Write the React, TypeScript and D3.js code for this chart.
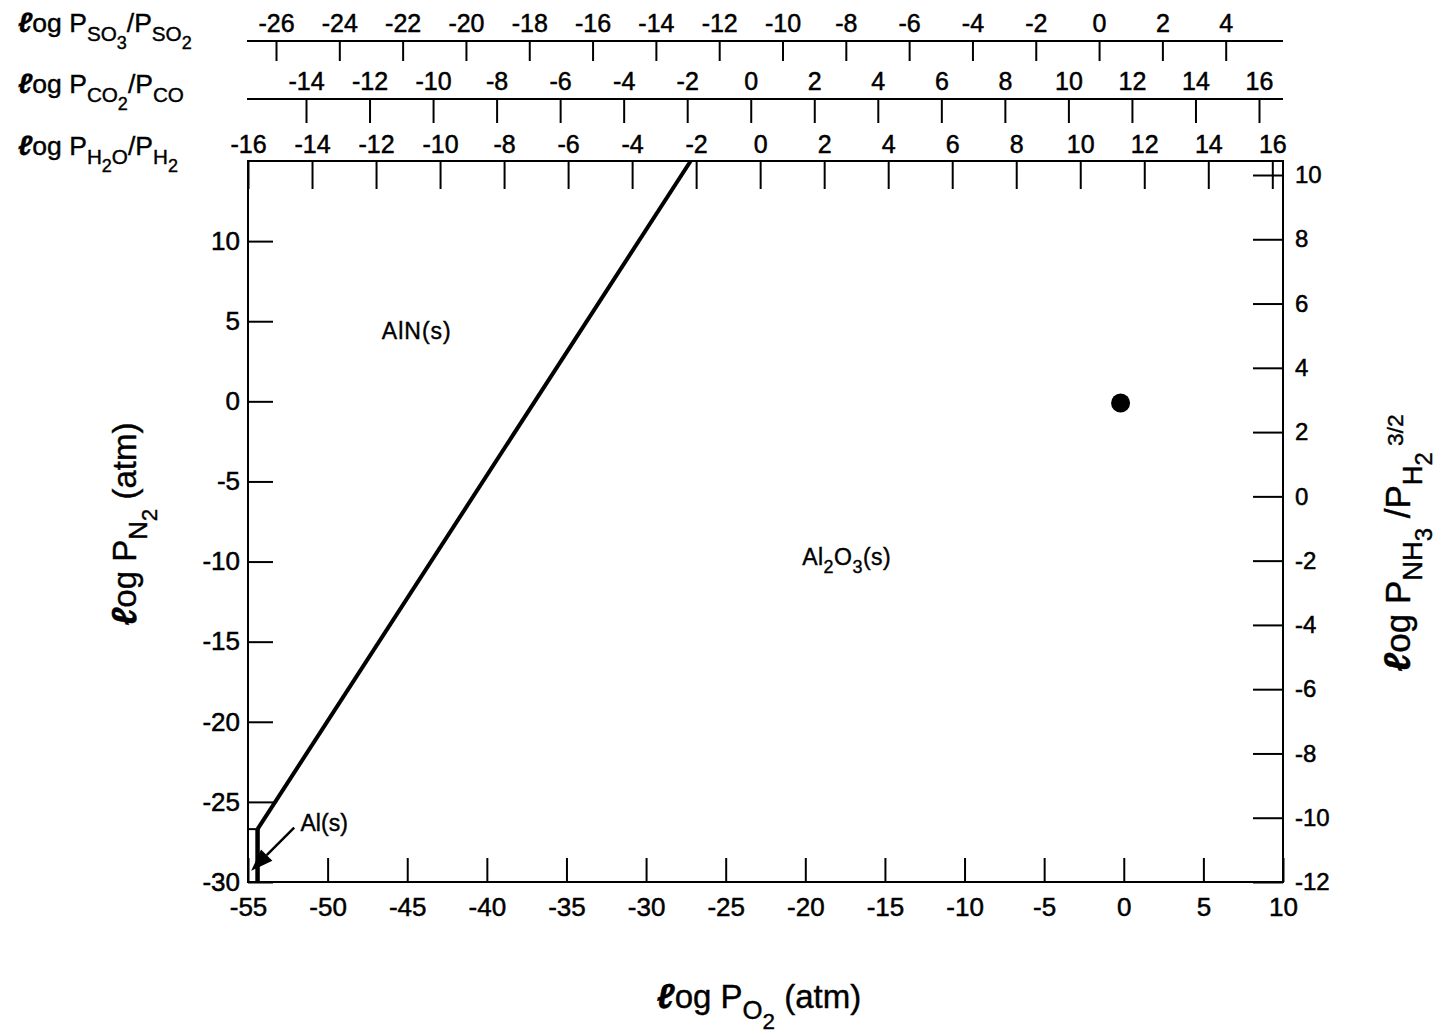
import React, { useRef, useEffect } from "react";
import * as d3 from "d3";

// tick values of every axis
const po2Ticks = [-55, -50, -45, -40, -35, -30, -25, -20, -15, -10, -5, 0, 5, 10];
const pn2Ticks = [-30, -25, -20, -15, -10, -5, 0, 5, 10];
const nh3Ticks = [-12, -10, -8, -6, -4, -2, 0, 2, 4, 6, 8, 10];
const so3Ticks = [-26, -24, -22, -20, -18, -16, -14, -12, -10, -8, -6, -4, -2, 0, 2, 4];
const co2Ticks = [-14, -12, -10, -8, -6, -4, -2, 0, 2, 4, 6, 8, 10, 12, 14, 16];
const h2oTicks = [-16, -14, -12, -10, -8, -6, -4, -2, 0, 2, 4, 6, 8, 10, 12, 14, 16];

// phase boundaries: [log PO2, log PN2]
const alnAl2o3Line = [[-54.4, -26.7], [-27.2, 15]];
const alAl2o3Line = [[-54.4, -30], [-54.4, -26.7]];
const alAlnLine = [[-55, -26.7], [-54.4, -26.7]];

// air point
const airPoint = [-0.2, -0.1];

const FONT = "'Liberation Sans', Arial, Helvetica, sans-serif";

// level: 0 base, 1 subscript, 2 sub-subscript, 3 superscript
const OFFSET = [0, 0.34, 0.64, -0.2];
const SCALE = [1, 0.78, 0.68, 0.65];

const writeFormula = (text, parts, size) => {
  let prev = 0;
  parts.forEach(([t, lvl]) => {
    const off = OFFSET[lvl] * size;
    const ts = text
      .append("tspan")
      .attr("dy", off - prev)
      .attr("font-size", size * SCALE[lvl])
      .text(t);
    if (t === "ℓ") {
      ts.attr("font-weight", "bold").attr("font-style", "italic").attr("font-size", size * 1.05);
    }
    prev = off;
  });
};

const App = () => {
  const svgRef = useRef(null);

  const drawChart = () => {
    document.body.style.margin = "0";
    const svg = d3.select(svgRef.current);
    svg.selectAll("*").remove();

    const x = d3.scaleLinear().domain([-55, 10]).range([248, 1283]);
    const y = d3.scaleLinear().domain([-30, 15]).range([882, 161]);
    const yR = d3.scaleLinear().domain([-12, 10]).range([882, 175]);
    const so3 = d3.scaleLinear().domain([-26, 4]).range([276, 1225.7]);
    const co2 = d3.scaleLinear().domain([-14, 16]).range([306, 1259]);
    const h2o = d3.scaleLinear().domain([-16, 16]).range([248, 1272.3]);

    const fmt = (d) => String(d);
    const styleAxis = (g, size) => {
      g.select(".domain").remove();
      g.selectAll("line").attr("stroke", "#000").attr("stroke-width", 2);
      g.selectAll("text")
        .attr("font-size", size)
        .attr("font-family", FONT)
        .attr("fill", "#000")
        .attr("stroke", "#000")
        .attr("stroke-width", 0.5);
    };

    /* bottom axis */
    svg
      .append("g")
      .attr("transform", "translate(0,882)")
      .call(d3.axisBottom(x).tickValues(po2Ticks).tickSizeInner(-24).tickSizeOuter(0).tickPadding(16).tickFormat(fmt))
      .call((g) => styleAxis(g, 26));

    /* left axis */
    svg
      .append("g")
      .attr("transform", "translate(248,0)")
      .call(d3.axisLeft(y).tickValues(pn2Ticks).tickSizeInner(-25).tickSizeOuter(0).tickPadding(8).tickFormat(fmt))
      .call((g) => styleAxis(g, 26));

    /* right axis */
    svg
      .append("g")
      .attr("transform", "translate(1283,0)")
      .call(d3.axisRight(yR).tickValues(nh3Ticks).tickSizeInner(-30).tickSizeOuter(0).tickPadding(12).tickFormat(fmt))
      .call((g) => styleAxis(g, 24));

    /* top axes */
    const topAxes = [
      { scale: so3, ticks: so3Ticks, y0: 41, len: 20, pad: 9 },
      { scale: co2, ticks: co2Ticks, y0: 99, len: 24, pad: 9 },
      { scale: h2o, ticks: h2oTicks, y0: 161, len: 28, pad: 8 },
    ];
    topAxes.forEach((a) => {
      svg
        .append("g")
        .attr("transform", `translate(0,${a.y0})`)
        .call(d3.axisTop(a.scale).tickValues(a.ticks).tickSizeInner(-a.len).tickSizeOuter(0).tickPadding(a.pad).tickFormat(fmt))
        .call((g) => styleAxis(g, 25));
      svg
        .append("line")
        .attr("x1", 247)
        .attr("x2", 1283)
        .attr("y1", a.y0)
        .attr("y2", a.y0)
        .attr("stroke", "#000")
        .attr("stroke-width", 2);
    });

    /* frame */
    svg
      .append("rect")
      .attr("x", x(-55))
      .attr("y", y(15))
      .attr("width", x(10) - x(-55))
      .attr("height", y(-30) - y(15))
      .attr("fill", "none")
      .attr("stroke", "#000")
      .attr("stroke-width", 2);

    /* phase boundaries */
    const line = d3
      .line()
      .x((d) => x(d[0]))
      .y((d) => y(d[1]));
    svg.append("path").attr("d", line(alnAl2o3Line)).attr("fill", "none").attr("stroke", "#000").attr("stroke-width", 4);
    svg.append("path").attr("d", line(alAl2o3Line)).attr("fill", "none").attr("stroke", "#000").attr("stroke-width", 4.5);
    svg.append("path").attr("d", line(alAlnLine)).attr("fill", "none").attr("stroke", "#000").attr("stroke-width", 2);

    /* air point */
    svg
      .append("circle")
      .attr("cx", x(airPoint[0]))
      .attr("cy", y(airPoint[1]))
      .attr("r", 9.5)
      .attr("fill", "#000");

    /* region labels */
    const labelText = (sel) =>
      sel.attr("font-family", FONT).attr("fill", "#000").attr("stroke", "#000").attr("stroke-width", 0.4);

    const aln = svg
      .append("text")
      .attr("x", x(-44.4))
      .attr("y", y(3.9))
      .attr("text-anchor", "middle")
      .attr("letter-spacing", 1)
      .call(labelText);
    writeFormula(aln, [["AlN(s)", 0]], 23);

    const al2o3 = svg
      .append("text")
      .attr("x", x(-17.4))
      .attr("y", y(-10.2))
      .attr("text-anchor", "middle")
      .attr("letter-spacing", 0.5)
      .call(labelText);
    writeFormula(al2o3, [["Al", 0], ["2", 1], ["O", 0], ["3", 1], ["(s)", 0]], 23);

    svg
      .append("text")
      .attr("x", x(-51.7))
      .attr("y", y(-26.8))
      .attr("font-size", 23)
      .call(labelText)
      .text("Al(s)");

    /* arrow to Al(s) field */
    const sx = x(-52.1), sy = y(-26.6);
    const tx = x(-54.8), ty = y(-29.3);
    const ang = Math.atan2(ty - sy, tx - sx);
    const hl = 22, hw = 8;
    const bx = tx - hl * Math.cos(ang), by = ty - hl * Math.sin(ang);
    svg.append("line").attr("x1", sx).attr("y1", sy).attr("x2", bx).attr("y2", by).attr("stroke", "#000").attr("stroke-width", 2.5);
    svg
      .append("polygon")
      .attr(
        "points",
        [
          [tx, ty],
          [bx + hw * Math.sin(ang), by - hw * Math.cos(ang)],
          [bx - hw * Math.sin(ang), by + hw * Math.cos(ang)],
        ].join(" ")
      )
      .attr("fill", "#000");

    /* axis titles */
    const xTitle = svg
      .append("text")
      .attr("x", 759)
      .attr("y", 1008)
      .attr("text-anchor", "middle")
      .call(labelText);
    writeFormula(xTitle, [["ℓ", 0], ["og P", 0], ["O", 1], ["2", 2], ["  (atm)", 0]], 33);

    const yTitle = svg
      .append("text")
      .attr("transform", "translate(136,524) rotate(-90)")
      .attr("text-anchor", "middle")
      .call(labelText);
    writeFormula(yTitle, [["ℓ", 0], ["og P", 0], ["N", 1], ["2", 2], ["  (atm)", 0]], 33);

    const yRTitle = svg
      .append("text")
      .attr("transform", "translate(1410,543) rotate(-90)")
      .attr("text-anchor", "middle")
      .call(labelText);
    writeFormula(yRTitle, [["ℓ", 0], ["og P", 0], ["NH", 1], ["3", 2], [" /P", 0], ["H", 1], ["2", 2], [" 3/2", 3]], 35);

    /* top-left labels of the ratio scales */
    const ratioLabels = [
      { y0: 32, parts: [["ℓ", 0], ["og P", 0], ["SO", 1], ["3", 2], ["/P", 0], ["SO", 1], ["2", 2]] },
      { y0: 93, parts: [["ℓ", 0], ["og P", 0], ["CO", 1], ["2", 2], ["/P", 0], ["CO", 1]] },
      { y0: 155, parts: [["ℓ", 0], ["og P", 0], ["H", 1], ["2", 2], ["O", 1], ["/P", 0], ["H", 1], ["2", 2]] },
    ];
    ratioLabels.forEach((r) => {
      const t = svg.append("text").attr("x", 18).attr("y", r.y0).call(labelText);
      writeFormula(t, r.parts, 26.5);
    });
  };

  useEffect(() => {
    drawChart();
  }, []);

  return <svg ref={svgRef} width={1442} height={1033} style={{ display: "block", background: "#fff" }}></svg>;
};

export default App;
